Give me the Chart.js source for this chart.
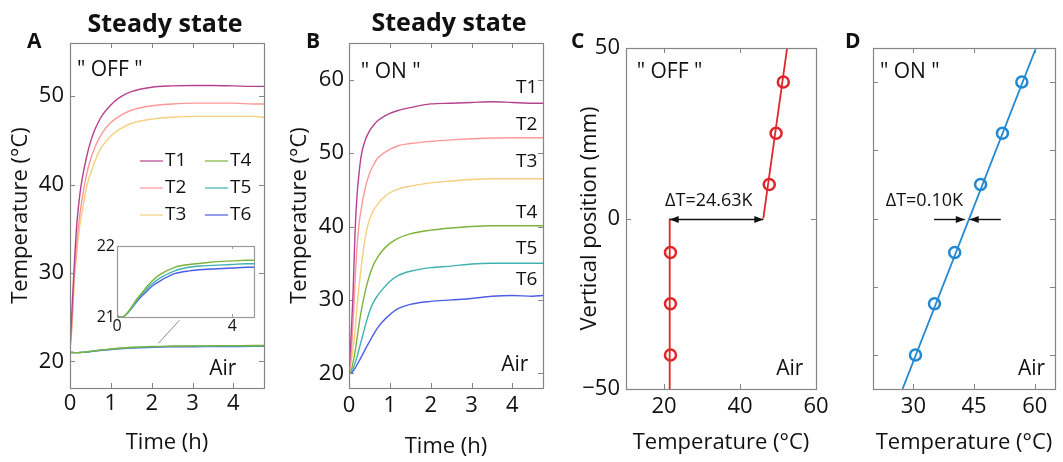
<!DOCTYPE html>
<html>
<head>
<meta charset="utf-8">
<script src="https://cdn.jsdelivr.net/npm/chart.js@4.4.1/dist/chart.umd.min.js"></script>
<style>
  html, body { margin: 0; padding: 0; background: #fff; }
  #fig { position: relative; width: 1063px; height: 462px; overflow: hidden; font-family: 'Open Sans', sans-serif; color: #111; }
  #fig canvas { position: absolute; left: 0; top: 0; }
  .tag { position: absolute; font-weight: bold; font-size: 21px; line-height: 1; }
  .head { position: absolute; font-weight: bold; font-size: 25px; line-height: 1; transform: translate(-50%, -50%); white-space: nowrap; }
</style>
</head>
<body>
<div id="fig">
  <canvas id="cA" width="1063" height="462"></canvas>
  <canvas id="cInset" width="1063" height="462"></canvas>
  <canvas id="cB" width="1063" height="462"></canvas>
  <canvas id="cC" width="1063" height="462"></canvas>
  <canvas id="cD" width="1063" height="462"></canvas>
  <div class="head" style="left:165px;top:22px">Steady state</div>
  <div class="head" style="left:449px;top:21px">Steady state</div>
  <div class="tag" style="left:27px;top:30px">A</div>
  <div class="tag" style="left:306px;top:30px">B</div>
  <div class="tag" style="left:571px;top:30px">C</div>
  <div class="tag" style="left:845px;top:30px">D</div>
</div>
<script>
// sample times of the heating runs (h)
const hours = [0, 0.05, 0.1, 0.15, 0.2, 0.25, 0.3, 0.4, 0.5, 0.6, 0.7, 0.8, 1.0, 1.2, 1.5, 2.0, 2.5, 3.0, 3.5, 4.0, 4.5, 4.75];

// "OFF" run, sensor temperatures (°C)
const offT1 = [21.3, 26.0, 30.5, 34.5, 37.2, 39.2, 40.7, 43.0, 44.8, 46.1, 47.1, 47.9, 49.0, 49.8, 50.5, 51.0, 51.15, 51.2, 51.2, 51.15, 51.1, 51.1];
const offT2 = [21.3, 24.5, 29.3, 32.3, 35.0, 36.9, 38.5, 41.0, 42.8, 44.1, 45.1, 45.9, 47.0, 47.7, 48.4, 48.9, 49.1, 49.2, 49.2, 49.2, 49.1, 49.1];
const offT3 = [21.3, 24.0, 28.8, 31.5, 33.9, 35.7, 37.0, 39.6, 41.2, 42.5, 43.6, 44.4, 45.5, 46.2, 46.9, 47.4, 47.6, 47.7, 47.7, 47.7, 47.7, 47.6];
const offT4 = [21.02, 21.01, 21.0, 21.0, 21.0, 21.01, 21.03, 21.08, 21.14, 21.2, 21.26, 21.31, 21.41, 21.5, 21.6, 21.7, 21.74, 21.76, 21.78, 21.79, 21.8, 21.8];
const offT5 = [21.02, 21.01, 21.0, 21.0, 21.0, 21.01, 21.03, 21.07, 21.13, 21.18, 21.24, 21.29, 21.38, 21.46, 21.55, 21.65, 21.7, 21.72, 21.73, 21.74, 21.75, 21.75];
const offT6 = [21.02, 21.01, 21.0, 21.0, 21.0, 21.01, 21.03, 21.07, 21.12, 21.17, 21.22, 21.27, 21.35, 21.43, 21.51, 21.61, 21.65, 21.67, 21.68, 21.69, 21.7, 21.7];

// "ON" run, sensor temperatures (°C)
const onT1 = [20, 25.0, 31.0, 39.5, 44.5, 47.5, 49.7, 51.8, 53.0, 53.8, 54.4, 54.8, 55.4, 55.8, 56.2, 56.7, 56.8, 56.9, 57.0, 56.9, 56.8, 56.8];
const onT2 = [20, 22.5, 27.0, 32.7, 37.5, 40.5, 42.4, 45.3, 47.2, 48.4, 49.3, 49.8, 50.5, 51.0, 51.3, 51.6, 51.8, 51.95, 52.05, 52.1, 52.1, 52.1];
const onT3 = [20, 21.5, 23.5, 25.8, 29.3, 32.0, 34.5, 38.6, 40.9, 42.2, 43.0, 43.7, 44.6, 45.1, 45.5, 45.95, 46.2, 46.4, 46.5, 46.5, 46.5, 46.5];
const onT4 = [20, 20.4, 21.5, 23.0, 24.9, 26.8, 28.5, 31.2, 33.3, 34.8, 35.8, 36.6, 37.7, 38.4, 39.0, 39.5, 39.8, 40.0, 40.1, 40.1, 40.1, 40.1];
const onT5 = [20, 20.2, 20.7, 21.4, 22.3, 23.4, 24.4, 26.5, 28.4, 29.7, 30.6, 31.3, 32.5, 33.3, 33.9, 34.4, 34.6, 34.9, 35.0, 35.0, 35.0, 35.0];
const onT6 = [20, 20.0, 20.3, 20.7, 21.2, 21.7, 22.2, 23.3, 24.3, 25.3, 26.2, 26.9, 28.0, 28.8, 29.4, 29.8, 30.0, 30.2, 30.5, 30.6, 30.5, 30.6];

const sensorNames = ['T1', 'T2', 'T3', 'T4', 'T5', 'T6'];
const sensorColors = ['#b5428f', '#ff9797', '#f5cf7f', '#7db23c', '#3fb2b0', '#4c5ee4'];

// vertical temperature profiles: probe heights (mm) and readings (°C)
const probeHeights = [-40, -25, -10, 10, 25, 40];
const offProfile = [21.7, 21.7, 21.7, 47.7, 49.5, 51.4];
const onProfile = [30.5, 35.2, 40.2, 46.6, 52.0, 56.8];

// fitted lines [temperature, height]
const offFitLow = [[21.5, -50], [21.5, 0]];
const offFitHigh = [[46.13, 0], [52.4, 50]];
const onFit = [[27.3, -50], [60.3, 50]];

// tick values
const ticksHours = [0, 1, 2, 3, 4];
const ticksTempA = [20, 30, 40, 50];
const ticksTempB = [20, 30, 40, 50, 60];
const ticksInsetX = [0, 4];
const ticksInsetY = [21, 22];
const ticksProfileC = [20, 40, 60];
const ticksProfileD = [30, 45, 60];
const ticksHeightC = [-50, 0, 50];
const ticksHeightD = [-40, -20, 0, 20, 40];

const W = 1063, H = 462;
const INK = '#111';
Chart.defaults.font.family = "'Open Sans', sans-serif";
Chart.defaults.color = INK;

const pts = (xs, ys) => xs.map((x, i) => ({ x, y: ys[i] }));
const pairs = arr => arr.map(p => ({ x: p[0], y: p[1] }));
const minus = v => (v < 0 ? '\u2212' + Math.abs(v) : String(v));

function layoutFor(area, yw, xh) {
  return { padding: { left: area.l - yw, top: area.t, right: W - area.r, bottom: H - area.b - xh } };
}

function axis(min, max, ticks, o) {
  return {
    type: 'linear', min, max,
    afterBuildTicks: s => { s.ticks = ticks.map(v => ({ value: v })); },
    afterFit: s => { if (s.isHorizontal()) s.height = o.size; else s.width = o.size; },
    grid: { display: false, drawTicks: false },
    border: { display: false },
    ticks: {
      display: o.labels !== false, padding: o.pad, autoSkip: false, maxRotation: 0,
      font: { size: o.font || 22 }, color: INK, callback: v => minus(v)
    },
    title: o.title
      ? { display: true, text: o.title, font: { size: 22 }, color: INK, padding: o.titlePad }
      : { display: false }
  };
}

// box with inward ticks on all four sides
const framePlugin = {
  id: 'frame',
  beforeDatasetsDraw(chart, args, opts) {
    if (!opts.fill) return;
    const { ctx, chartArea: a } = chart;
    ctx.save();
    ctx.fillStyle = opts.fill;
    ctx.fillRect(a.left, a.top, a.right - a.left, a.bottom - a.top);
    ctx.restore();
  },
  afterDatasetsDraw(chart, args, opts) {
    const { ctx, chartArea: a, scales: { x, y } } = chart;
    const len = opts.len || 5;
    ctx.save();
    ctx.strokeStyle = opts.color || '#858585';
    ctx.lineWidth = 1;
    ctx.beginPath();
    x.ticks.forEach(t => {
      const px = Math.round(x.getPixelForValue(t.value)) + 0.5;
      ctx.moveTo(px, a.bottom); ctx.lineTo(px, a.bottom - len);
      ctx.moveTo(px, a.top); ctx.lineTo(px, a.top + len);
    });
    y.ticks.forEach(t => {
      const py = Math.round(y.getPixelForValue(t.value)) + 0.5;
      ctx.moveTo(a.left, py); ctx.lineTo(a.left + len, py);
      ctx.moveTo(a.right, py); ctx.lineTo(a.right - len, py);
    });
    ctx.stroke();
    ctx.lineWidth = 1.2;
    ctx.strokeRect(Math.round(a.left) + 0.5, Math.round(a.top) + 0.5,
      Math.round(a.right - a.left), Math.round(a.bottom - a.top));
    ctx.restore();
  }
};

// text placed in data coordinates
const notesPlugin = {
  id: 'notes',
  afterDatasetsDraw(chart, args, opts) {
    const { ctx, scales: { x, y } } = chart;
    (opts.items || []).forEach(n => {
      ctx.save();
      ctx.font = (n.size || 21) + "px 'Open Sans', sans-serif";
      ctx.fillStyle = INK;
      ctx.textAlign = n.align || 'center';
      ctx.textBaseline = 'middle';
      ctx.fillText(n.text, x.getPixelForValue(n.x), y.getPixelForValue(n.y));
      ctx.restore();
    });
  }
};

// black dimension arrows along a constant height
const arrowPlugin = {
  id: 'arrows',
  afterDatasetsDraw(chart, args, opts) {
    const { ctx, scales: { x, y } } = chart;
    const head = (px, py, dir) => {
      ctx.beginPath();
      ctx.moveTo(px, py);
      ctx.lineTo(px - dir * 9, py - 3.5);
      ctx.lineTo(px - dir * 9, py + 3.5);
      ctx.closePath();
      ctx.fill();
    };
    (opts.items || []).forEach(a => {
      const x0 = x.getPixelForValue(a.from), x1 = x.getPixelForValue(a.to);
      const py = Math.round(y.getPixelForValue(a.y)) + 0.5;
      const dir = Math.sign(x1 - x0);
      ctx.save();
      ctx.strokeStyle = '#111';
      ctx.fillStyle = '#111';
      ctx.lineWidth = 1.4;
      ctx.beginPath();
      ctx.moveTo(x0, py); ctx.lineTo(x1, py);
      ctx.stroke();
      head(x1, py, dir);
      if (a.both) head(x0, py, -dir);
      ctx.restore();
    });
  }
};

// two-column legend inside panel A
const gridLegend = {
  id: 'gridLegend',
  afterDatasetsDraw(chart, args, opts) {
    if (!opts.show) return;
    const { ctx, chartArea: a } = chart;
    ctx.save();
    ctx.font = "19px 'Open Sans', sans-serif";
    ctx.textBaseline = 'middle';
    ctx.fillStyle = INK;
    sensorNames.forEach((name, i) => {
      const col = Math.floor(i / 3), row = i % 3;
      const lx = a.left + 70 + col * 65, ly = a.top + 118 + row * 27;
      ctx.strokeStyle = sensorColors[i];
      ctx.globalAlpha = 0.75;
      ctx.lineWidth = 1.6;
      ctx.beginPath(); ctx.moveTo(lx, ly); ctx.lineTo(lx + 23, ly); ctx.stroke();
      ctx.globalAlpha = 1;
      ctx.fillText(name, lx + 25, ly);
    });
    ctx.restore();
  }
};

const curve = (ys, i) => ({
  label: sensorNames[i], data: pts(hours, ys), borderColor: sensorColors[i],
  borderWidth: 1.4, pointRadius: 0, cubicInterpolationMode: 'monotone', fill: false
});

const plugins = [framePlugin, notesPlugin, arrowPlugin, gridLegend];
const base = { responsive: false, animation: false, events: [] };

// A: "OFF" heating curves
const insetPointer = [[2.16, 22.03], [2.68, 24.66]];
const areaA = { l: 70, r: 264, t: 43, b: 388 };
new Chart(document.getElementById('cA'), {
  type: 'line',
  data: {
    datasets: [offT1, offT2, offT3, offT4, offT5, offT6].map(curve).concat([{
      data: pairs(insetPointer), borderColor: '#8a8a8a', borderWidth: 1, pointRadius: 0
    }])
  },
  options: {
    ...base,
    layout: layoutFor(areaA, 62, 74),
    scales: {
      x: axis(0, 4.75, ticksHours, { size: 74, pad: 3, title: 'Time (h)', titlePad: { top: 0, bottom: 6 } }),
      y: axis(17, 56, ticksTempA, { size: 62, pad: 6, title: 'Temperature (°C)', titlePad: { top: 0, bottom: 0 } })
    },
    plugins: {
      legend: { display: false }, tooltip: { enabled: false },
      gridLegend: { show: true },
      notes: { items: [
        { text: '" OFF "', x: 0.17, y: 52.9, align: 'left', size: 21 },
        { text: 'Air', x: 3.74, y: 19.1, size: 21 }
      ] }
    }
  },
  plugins
});

// A inset: air-side sensors
const areaInset = { l: 117, r: 254, t: 246, b: 317 };
new Chart(document.getElementById('cInset'), {
  type: 'line',
  data: { datasets: [offT4, offT5, offT6].map((ys, k) => curve(ys, k + 3)) },
  options: {
    ...base,
    layout: layoutFor(areaInset, 24, 22),
    scales: {
      x: axis(0, 4.75, ticksInsetX, { size: 22, pad: 0, font: 16 }),
      y: axis(21, 22, ticksInsetY, { size: 24, pad: 2, font: 16 })
    },
    plugins: { legend: { display: false }, tooltip: { enabled: false }, frame: { fill: '#fff', len: 3, color: '#9a9a9a' } }
  },
  plugins
});

// B: "ON" heating curves
const areaB = { l: 349, r: 543, t: 43, b: 388 };
new Chart(document.getElementById('cB'), {
  type: 'line',
  data: { datasets: [onT1, onT2, onT3, onT4, onT5, onT6].map(curve) },
  options: {
    ...base,
    layout: layoutFor(areaB, 62, 74),
    scales: {
      x: axis(0, 4.75, ticksHours, { size: 74, pad: 5, title: 'Time (h)', titlePad: { top: 0, bottom: 2 } }),
      y: axis(18, 65, ticksTempB, { size: 62, pad: 5, title: 'Temperature (°C)', titlePad: { top: 0, bottom: 0 } })
    },
    plugins: {
      legend: { display: false }, tooltip: { enabled: false },
      notes: { items: [
        { text: '" ON "', x: 0.29, y: 61.1, align: 'left', size: 21 },
        { text: 'Air', x: 4.06, y: 21.1, size: 21 },
        { text: 'T1', x: 4.35, y: 58.9, size: 19 },
        { text: 'T2', x: 4.35, y: 53.9, size: 19 },
        { text: 'T3', x: 4.35, y: 48.9, size: 19 },
        { text: 'T4', x: 4.35, y: 41.9, size: 19 },
        { text: 'T5', x: 4.35, y: 37.0, size: 19 },
        { text: 'T6', x: 4.35, y: 32.8, size: 19 }
      ] }
    }
  },
  plugins
});

const profileSet = (xs, color) => ({
  type: 'scatter', data: pts(xs, probeHeights), showLine: false,
  pointRadius: 5.5, pointBorderWidth: 2.5, pointBorderColor: color,
  pointBackgroundColor: 'rgba(0,0,0,0)'
});
const fitSet = (arr, color) => ({
  data: pairs(arr), borderColor: color, borderWidth: 1.8, pointRadius: 0
});

// C: profile without switching
const RED = '#e0262a';
const areaC = { l: 626, r: 816, t: 48, b: 389 };
new Chart(document.getElementById('cC'), {
  type: 'line',
  data: { datasets: [fitSet(offFitLow, RED), fitSet(offFitHigh, RED), profileSet(offProfile, RED)] },
  options: {
    ...base,
    layout: layoutFor(areaC, 49, 73),
    scales: {
      x: axis(10, 60, ticksProfileC, { size: 73, pad: 5, title: 'Temperature (°C)', titlePad: { top: 0, bottom: 6 } }),
      y: axis(-50, 50, ticksHeightC, { size: 49, pad: 6, title: 'Vertical position (mm)', titlePad: { top: 0, bottom: 0 } })
    },
    plugins: {
      legend: { display: false }, tooltip: { enabled: false },
      arrows: { items: [{ from: offFitLow[1][0], to: offFitHigh[0][0], y: 0, both: true }] },
      notes: { items: [
        { text: '" OFF "', x: 12.8, y: 43, align: 'left', size: 21 },
        { text: 'Air', x: 53.1, y: -44, size: 21 },
        { text: 'ΔT=24.63K', x: 31.8, y: 5.2, size: 18 }
      ] }
    }
  },
  plugins
});

// D: profile with switching
const BLUE = '#2188d2';
const areaD = { l: 873, r: 1062, t: 48, b: 389 };
new Chart(document.getElementById('cD'), {
  type: 'line',
  data: { datasets: [fitSet(onFit, BLUE), profileSet(onProfile, BLUE)] },
  options: {
    ...base,
    layout: layoutFor(areaD, 0, 73),
    scales: {
      x: axis(20, 65, ticksProfileD, { size: 73, pad: 5, title: 'Temperature (°C)', titlePad: { top: 0, bottom: 6 } }),
      y: axis(-50, 50, ticksHeightD, { size: 0, pad: 0, labels: false })
    },
    plugins: {
      legend: { display: false }, tooltip: { enabled: false },
      arrows: { items: [{ from: 35.1, to: 42.7, y: 0 }, { from: 51.6, to: 43.9, y: 0 }] },
      notes: { items: [
        { text: '" ON "', x: 21.7, y: 43, align: 'left', size: 21 },
        { text: 'Air', x: 59.2, y: -44, size: 21 },
        { text: 'ΔT=0.10K', x: 32.7, y: 5.2, size: 18 }
      ] }
    }
  },
  plugins
});
</script>
</body>
</html>
